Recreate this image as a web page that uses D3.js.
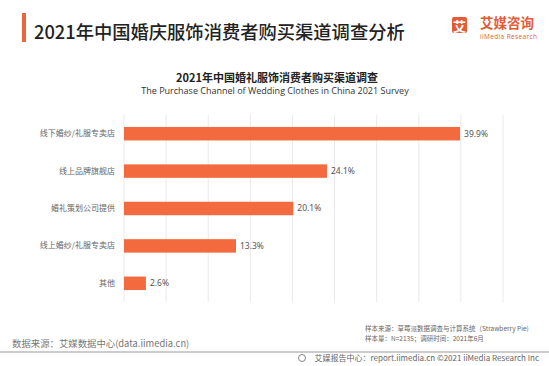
<!DOCTYPE html>
<html><head><meta charset="utf-8">
<script src="https://cdn.jsdelivr.net/npm/d3@7"></script>
<style>
html,body{margin:0;padding:0;background:#fff;}
svg{display:block;font-family:"Noto Sans CJK SC","Noto Sans",sans-serif;}
</style></head>
<body>
<svg id="c" width="549" height="366"></svg>
<script>
const categories = ["线下婚纱/礼服专卖店","线上品牌旗舰店","婚礼策划公司提供","线上婚纱/礼服专卖店","其他"];
const values = [39.9, 24.1, 20.1, 13.3, 2.6];
const gridTicks = [0,5,10,15,20,25,30,35,40,45];

const svg = d3.select("#c");
const orange = "#f26a3d";

// header
svg.append("rect").attr("x",22).attr("y",13).attr("width",4).attr("height",29).attr("fill","#e8673f");
svg.append("text").attr("x",34).attr("y",38.5).attr("font-size",18.3).attr("font-weight",500).attr("fill","#222")
  .text("2021年中国婚庆服饰消费者购买渠道调查分析");

// logo
svg.append("rect").attr("x",452).attr("y",17).attr("width",15).attr("height",16).attr("rx",2).attr("fill","#e45c37");
svg.append("text").attr("x",459.5).attr("y",30.5).attr("text-anchor","middle").attr("font-size",13).attr("font-weight",700).attr("fill","#fff").text("艾");
svg.append("text").attr("x",480).attr("y",27.5).attr("font-size",13.5).attr("font-weight",700).attr("fill","#e45c37").text("艾媒咨询");
svg.append("text").attr("x",480).attr("y",39).attr("font-size",6.5).attr("fill","#e45c37").attr("textLength",57)
  .attr("font-family","'Open Sans',sans-serif").text("iiMedia Research");

// chart titles
svg.append("text").attr("x",277).attr("y",82).attr("text-anchor","middle").attr("font-size",11).attr("font-weight",700).attr("fill","#222")
  .text("2021年中国婚礼服饰消费者购买渠道调查");
svg.append("text").attr("x",275).attr("y",94).attr("text-anchor","middle").attr("font-size",9).attr("fill","#333")
  .attr("font-family","'Open Sans','Noto Sans',sans-serif")
  .text("The Purchase Channel of Wedding Clothes in China 2021 Survey");

// scales
const x = d3.scaleLinear().domain([0,45]).range([124,503]);
const y = d3.scaleBand().domain(categories).range([115,302]).paddingInner(0.64).paddingOuter(0.32);

// grid
svg.append("g").selectAll("line").data(gridTicks).join("line")
  .attr("x1",d=>x(d)).attr("x2",d=>x(d)).attr("y1",115).attr("y2",302)
  .attr("stroke","#e9e9e9").attr("stroke-width",1);

// y axis labels
const yAxis = d3.axisLeft(y).tickSize(0).tickPadding(9);
const ya = svg.append("g").attr("transform","translate(124,0)").call(yAxis);
ya.select(".domain").remove();
ya.selectAll("text").attr("font-size",8).attr("fill","#666").attr("font-family","'Noto Sans CJK SC',sans-serif");

// bars
svg.append("g").selectAll("rect").data(values).join("rect")
  .attr("x",x(0)).attr("y",(d,i)=>y(categories[i])).attr("width",d=>x(d)-x(0)).attr("height",y.bandwidth())
  .attr("fill",orange);

svg.append("g").selectAll("text").data(values).join("text")
  .attr("x",d=>x(d)+4).attr("y",(d,i)=>y(categories[i])+y.bandwidth()/2).attr("dy","0.35em")
  .attr("font-size",8.5).attr("fill","#555").attr("font-family","'Noto Sans','Open Sans',sans-serif")
  .text(d=>d.toFixed(1)+"%");

// footer
svg.append("text").attr("x",12).attr("y",347).attr("font-size",9.4).attr("fill","#777").text("数据来源：艾媒数据中心(data.iimedia.cn)");
svg.append("text").attr("x",365).attr("y",331).attr("font-size",6.5).attr("fill","#666").text("样本来源：草莓派数据调查与计算系统（Strawberry Pie)");
svg.append("text").attr("x",365).attr("y",340.5).attr("font-size",6.5).attr("fill","#666").text("样本量：N=2135；调研时间：2021年6月");
svg.append("line").attr("x1",0).attr("x2",549).attr("y1",352).attr("y2",352).attr("stroke","#999").attr("stroke-width",1.2);
svg.append("circle").attr("cx",302).attr("cy",358).attr("r",3.5).attr("fill","none").attr("stroke","#777").attr("stroke-width",0.9);
svg.append("text").attr("x",539).attr("y",361).attr("text-anchor","end").attr("font-size",8).attr("fill","#666")
  .text("艾媒报告中心：report.iimedia.cn   ©2021  iiMedia Research  Inc");
</script>
</body></html>
